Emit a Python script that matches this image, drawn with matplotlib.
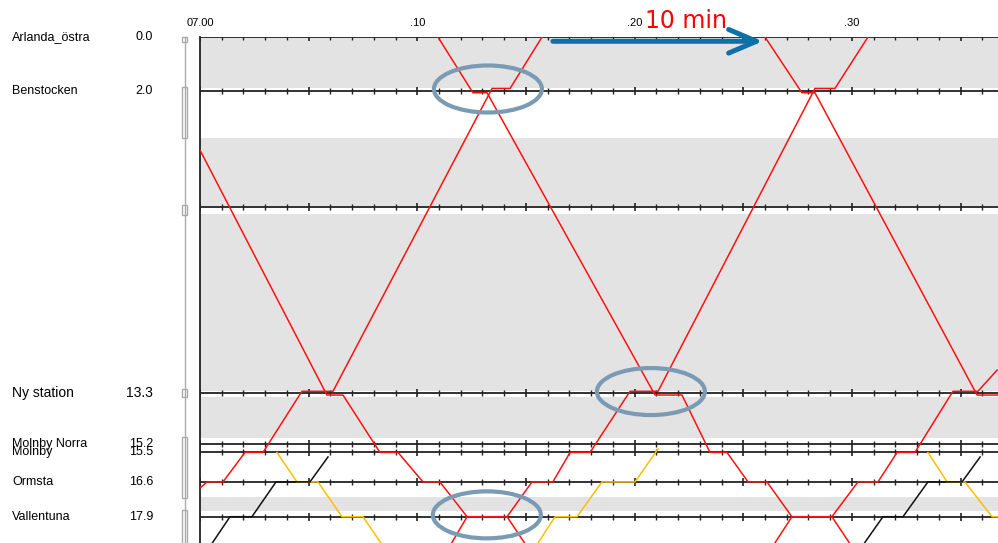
import numpy as np
import matplotlib.pyplot as plt
from matplotlib.patches import Ellipse, Rectangle
from matplotlib.transforms import blended_transform_factory

plt.rcParams['font.family'] = ['Liberation Sans', 'DejaVu Sans']

# stations (km from Arlanda)
stations = ['Arlanda_östra', 'Benstocken', '', 'Ny station', 'Molnby Norra', 'Molnby', 'Ormsta', 'Vallentuna']
station_km = [0.0, 2.0, 6.34, 13.3, 15.2, 15.5, 16.6, 17.9]
km_labels = ['0.0', '2.0', '', '13.3', '15.2', '15.5', '16.6', '17.9']

# single track sections (grey bands), km
band_from = [0.0, 3.77, 6.60, 13.43, 17.16]
band_to = [1.90, 6.31, 13.21, 14.96, 17.69]

# double track pieces in the track column, km
dbl_from = [0.0, 1.87, 6.27, 13.13, 14.93, 17.65]
dbl_to = [0.19, 3.77, 6.64, 13.43, 17.20, 19.2]

# time axis, minutes after 07.00
time_ticks = [0, 10, 20, 30]
time_labels = ['07.00', '.10', '.20', '.30']

# red trains (southbound waits on the lower track, northbound on the upper)
sb0_t = [0.0, 5.84, 6.58, 8.28, 9.11, 10.26, 11.04, 12.29, 14.13, 15.2]
sb0_km = [4.22, 13.36, 13.36, 15.5, 15.5, 16.6, 16.6, 17.9, 17.9, 19.2]
nb1_t = [0.0, 0.32, 1.06, 2.07, 2.90, 4.69, 6.12, 13.44, 14.27, 15.74]
nb1_km = [16.83, 16.6, 16.6, 15.5, 15.5, 13.22, 13.22, 1.92, 1.92, 0.0]
sb1_t = [10.95, 12.56, 13.21, 20.94, 22.18, 23.47, 24.25, 25.22, 26.09, 27.24, 29.08, 30.15]
sb1_km = [0.0, 2.08, 2.08, 13.36, 13.36, 15.5, 15.5, 16.6, 16.6, 17.9, 17.9, 19.2]
nb2_t = [11.35, 12.29, 14.13, 15.28, 16.24, 17.03, 17.95, 19.79, 21.08, 28.30, 29.22, 30.74]
nb2_km = [19.2, 17.9, 17.9, 16.6, 16.6, 15.5, 15.5, 13.22, 13.22, 1.92, 1.92, 0.0]
sb2_t = [26.0, 27.7, 28.3, 35.76, 37.0]
sb2_km = [0.0, 2.08, 2.08, 13.36, 13.36]
nb3_t = [26.2, 27.24, 29.08, 30.28, 31.20, 32.08, 32.90, 34.65, 35.80, 36.68]
nb3_km = [19.2, 17.9, 17.9, 16.6, 16.6, 15.5, 15.5, 13.22, 13.22, 12.43]

# yellow and black trains
y1_t = [3.54, 4.46, 5.43, 6.53, 7.50, 8.6]
y1_km = [15.5, 16.6, 16.6, 17.9, 17.9, 19.2]
y2_t = [15.3, 16.34, 17.35, 18.50, 20.02, 21.08]
y2_km = [19.2, 17.9, 17.9, 16.6, 16.6, 15.37]
y3_t = [33.5, 34.38, 35.20, 36.45, 37.0]
y3_km = [15.5, 16.6, 16.6, 17.9, 17.9]
k1_t = [0.3, 1.38, 2.39, 3.50, 5.06, 5.89]
k1_km = [19.2, 17.9, 17.9, 16.6, 16.6, 15.67]
k2_t = [30.3, 31.43, 32.35, 33.50, 35.07, 35.90]
k2_km = [19.2, 17.9, 17.9, 16.6, 16.6, 15.67]

# circled meeting points: (minute, km)
circ_t = [13.25, 20.75, 13.2]
circ_km = [1.94, 13.23, 17.83]

px_min = 21.73
px_km = 26.8

fig = plt.figure(figsize=(9.98, 5.43), dpi=100)
ax = fig.add_axes([200/998, 0, 798/998, 506/543])
ax.set_xlim(0, 798/px_min)
ax.set_ylim(506/px_km, 0)
for s in ['top', 'right', 'bottom']:
    ax.spines[s].set_visible(False)
ax.spines['left'].set_linewidth(1.3)
ax.spines['left'].set_color('#222222')
ax.set_xticks([])
ax.set_yticks([])

for a, b in zip(band_from, band_to):
    ax.axhspan(a, b, color='#e3e3e3', lw=0, zorder=0)

minutes = np.arange(0, 37)
major = minutes[minutes % 5 == 0]
minor = minutes[minutes % 5 != 0]
for km in station_km:
    ax.axhline(km, color='#222222', lw=1.3, zorder=2)
    ax.plot(minor, [km]*len(minor), ls='none', marker='|', ms=4, mew=1, color='#222222', zorder=2)
    ax.plot(major, [km]*len(major), ls='none', marker='|', ms=6, mew=1.2, color='#222222', zorder=2)

for t, km in [(sb0_t, sb0_km), (nb1_t, nb1_km), (sb1_t, sb1_km),
              (nb2_t, nb2_km), (sb2_t, sb2_km), (nb3_t, nb3_km)]:
    ax.plot(t, km, color='#ff1010', lw=1.1, zorder=3)
for t, km in [(y1_t, y1_km), (y2_t, y2_km), (y3_t, y3_km)]:
    ax.plot(t, km, color='#ffbf00', lw=1.1, zorder=3)
for t, km in [(k1_t, k1_km), (k2_t, k2_km)]:
    ax.plot(t, km, color='#111111', lw=1.1, zorder=3)

# station names and distances on the left
tr = blended_transform_factory(fig.transFigure, ax.transData)
for name, km, lab in zip(stations, station_km, km_labels):
    fs = 10 if name == 'Ny station' else 9
    ax.text(12/998, km, name, transform=tr, ha='left', va='center', fontsize=fs)
    ax.text(153/998, km, lab, transform=tr, ha='right', va='center', fontsize=fs)

# track column
ax.plot([185/998, 185/998], [0, 19.2], transform=tr, color='#aaaaaa', lw=1, clip_on=False)
for a, b in zip(dbl_from, dbl_to):
    ax.add_patch(Rectangle((182/998, a), 5/998, b - a, transform=tr, fc='white',
                           ec='#aaaaaa', lw=1, clip_on=False))

# time labels
xt = ax.get_xaxis_transform()
for t, lab in zip(time_ticks, time_labels):
    ax.text(t, 1 + 14/506, lab, transform=xt, ha='center', va='center', fontsize=8)

# annotation
ax.text(20.48, 1 + 16/506, '10 min', transform=xt, ha='left', va='center',
        fontsize=17, color='red', family='DejaVu Sans')
ax.annotate('', xy=(25.9, 0.16), xytext=(16.24, 0.16),
            arrowprops=dict(arrowstyle='->,head_length=2.0,head_width=0.85',
                            lw=3.6, color='#0e70a8', shrinkA=0, shrinkB=0),
            annotation_clip=False, zorder=6)
for t, km in zip(circ_t, circ_km):
    ax.add_patch(Ellipse((t, km), 108/px_min, 47/px_km, fill=False,
                         ec='#7b9ab4', lw=3, zorder=5))

fig.savefig('out.png', dpi=100)
